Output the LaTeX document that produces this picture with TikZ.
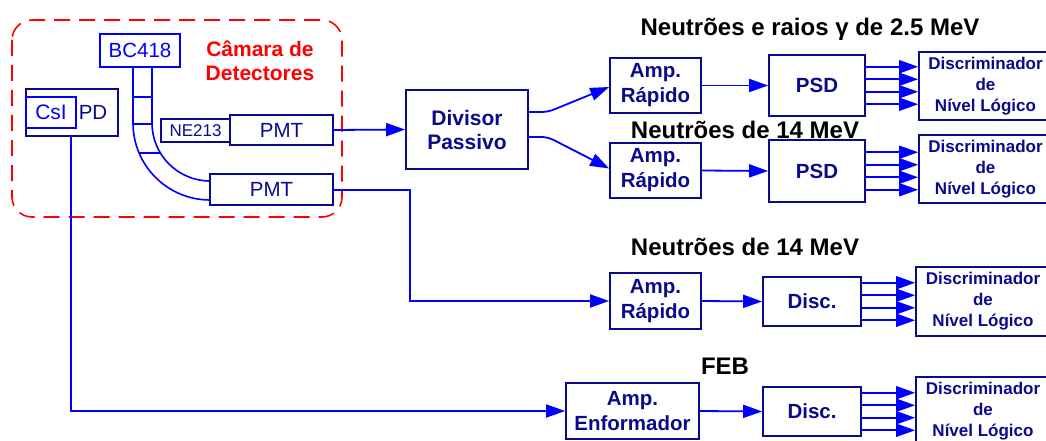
\documentclass[tikz,border=0pt]{standalone}
\usepackage{fontspec}
\setmainfont{Liberation Sans}
\usetikzlibrary{arrows.meta,calc}
\definecolor{dnavy}{RGB}{10,10,140}
\definecolor{cblue}{RGB}{0,0,255}
\definecolor{cred}{RGB}{255,0,0}
\begin{document}
\begin{tikzpicture}[x=1pt,y=-1pt,
  box/.style={draw=dnavy,line width=1.7pt,text=dnavy,font=\bfseries\fontsize{20.5}{25}\selectfont,align=center,inner sep=0pt,anchor=center},
  dlbox/.style={box,font=\bfseries\fontsize{17}{21}\selectfont},
  thinbox/.style={draw=dnavy,line width=1.7pt,text=dnavy,font=\fontsize{20.5}{24}\selectfont,inner sep=0pt,anchor=center},
  conn/.style={draw=cblue,line width=1.8pt},
  arr/.style={conn,-{Triangle[length=19pt,width=13pt]}},
  title/.style={font=\bfseries\fontsize{24}{28}\selectfont,text=black,inner sep=0pt},
  guide/.style={draw=cblue,line width=1.6pt}]
\clip (0,0) rectangle (1046,441);
% detector chamber
\draw[cred,line width=1.6pt,dash pattern=on 16pt off 9pt,rounded corners=20pt] (12,20) rectangle (342,217);
\node[font=\bfseries\fontsize{21}{24}\selectfont,text=cred,align=center,inner sep=0pt] (cam) at (260,61) {Câmara de\\Detectores};
% light guide
\draw[guide] (133,67) -- (133,123) .. controls (133,165.5) and (167.5,200) .. (210,200);
\draw[guide] (152,67) -- (152,123) .. controls (152,155) and (178,181) .. (210,181);
\draw[guide] (133,97) -- (152,97);
\draw[guide] (133,124) -- (152,124);
\draw[guide] (139,153) -- (160,153);
\node[thinbox,draw=cblue,text=cblue,minimum width=80pt,minimum height=33pt] (bc) at (140,50.5) {BC418};
% CsI PD
\node[thinbox,minimum width=92pt,minimum height=47pt] (csipd) at (72,112.5) {};
\node[thinbox,draw=cblue,text=cblue,minimum width=50pt,minimum height=31pt,font=\fontsize{21}{24}\selectfont] (csi) at (51,112.5) {CsI};
\node[text=dnavy,font=\fontsize{20.5}{24}\selectfont,inner sep=0pt] (pd) at (93,112) {PD};
% NE213 + PMTs
\node[thinbox,minimum width=69pt,minimum height=23pt,font=\fontsize{17}{20}\selectfont] (ne) at (195.5,130.5) {NE213};
\node[thinbox,minimum width=103pt,minimum height=30pt] (pmt1) at (281.5,130) {PMT};
\node[thinbox,minimum width=123pt,minimum height=31pt] (pmt2) at (271.5,189.5) {PMT};
% main boxes
\node[box,minimum width=122pt,minimum height=79pt,font=\bfseries\fontsize{21}{24}\selectfont] (div) at (467,129.5) {Divisor\\Passivo};
\node[box,minimum width=91pt,minimum height=55pt] (amp1) at (655.5,85.5) {Amp.\\Rápido};
\node[box,minimum width=91pt,minimum height=55pt] (amp2) at (655.5,170.5) {Amp.\\Rápido};
\node[box,minimum width=91pt,minimum height=56pt] (amp3) at (655.5,301) {Amp.\\Rápido};
\node[box,minimum width=133pt,minimum height=56pt] (enf) at (632.5,411) {Amp.\\Enformador};
\node[box,minimum width=96pt,minimum height=61pt] (psd1) at (817,85.5) {PSD};
\node[box,minimum width=96pt,minimum height=62pt] (psd2) at (817,171) {PSD};
\node[box,minimum width=98pt,minimum height=49pt] (disc3) at (812,301.5) {Disc.};
\node[box,minimum width=98pt,minimum height=49pt] (disc4) at (812,411.5) {Disc.};
\node[dlbox,minimum width=133pt,minimum height=68pt] (dl1) at (985.5,86) {Discriminador\\de\\Nível Lógico};
\node[dlbox,minimum width=133pt,minimum height=68pt] (dl2) at (985.5,169) {Discriminador\\de\\Nível Lógico};
\node[dlbox,minimum width=134pt,minimum height=69pt] (dl3) at (983,301.5) {Discriminador\\de\\Nível Lógico};
\node[dlbox,minimum width=134pt,minimum height=69pt] (dl4) at (983,411.5) {Discriminador\\de\\Nível Lógico};
% titles
\node[title] (t1) at (810,29) {Neutrões e raios γ de 2.5 MeV};
\node[title] (t2) at (745,130) {Neutrões de 14 MeV};
\node[title] (t3) at (745,247) {Neutrões de 14 MeV};
\node[title] (t4) at (725,366) {FEB};
% connectors
\draw[arr] (pmt1.east) -- (div.west);
\draw[arr,rounded corners=6pt] ($(div.east)+(0,-17.5)$) -- ++(19,0) -- ($(amp1.west)+(0,1.5)$);
\draw[arr,rounded corners=6pt] ($(div.east)+(0,7.5)$) -- ++(19,0) -- ($(amp2.west)+(0,-2)$);
\draw[arr] (amp1.east) -- (psd1.west);
\draw[arr] (amp2.east) -- (psd2.west);
\draw[arr] (amp3.east) -- (disc3.west);
\draw[arr] (enf.east) -- (disc4.west);
\coordinate (k1) at (410,0);
\draw[arr] ($(pmt2.east)+(0,0.5)$) -- ($(pmt2.east -| k1)+(0,0.5)$) -- (k1 |- amp3.west) -- (amp3.west);
\coordinate (k2) at (71,0);
\draw[arr] (csipd.south -| k2) -- (k2 |- enf.west) -- (enf.west);
\foreach \o in {-18.75,-6.25,6.25,18.75}{
  \draw[arr] ($(psd1.east)+(0,\o)$) -- ($(psd1.east -| dl1.west)+(0,\o)$);
  \draw[arr] ($(psd2.east)+(0,\o)$) -- ($(psd2.east -| dl2.west)+(0,\o)$);
  \draw[arr] ($(disc3.east)+(0,\o)$) -- ($(disc3.east -| dl3.west)+(0,\o)$);
  \draw[arr] ($(disc4.east)+(0,\o)$) -- ($(disc4.east -| dl4.west)+(0,\o)$);
}
\end{tikzpicture}
\end{document}
